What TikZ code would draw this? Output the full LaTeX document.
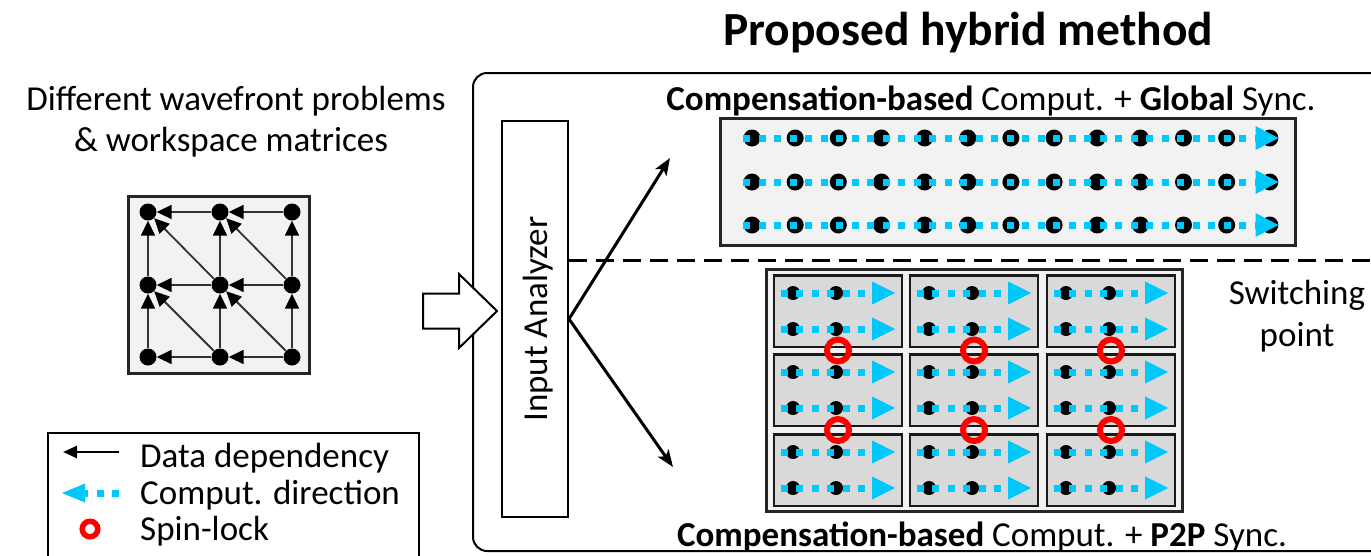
\documentclass[tikz,border=0pt]{standalone}
\usepackage{fontspec}
\setmainfont{Carlito}
\usetikzlibrary{arrows.meta,calc}
\definecolor{flowcyan}{RGB}{0,200,250}
\definecolor{panelgray}{RGB}{242,242,242}
\definecolor{cellgray}{RGB}{217,217,217}
\definecolor{lockred}{RGB}{255,0,0}
\tikzset{
  txt/.style={font=\fontsize{35}{42}\selectfont, inner sep=0pt, anchor=base},
  titletxt/.style={font=\fontsize{47.5}{56}\selectfont\bfseries, inner sep=0pt, anchor=base},
  frame/.style={draw=black!85, line width=3pt, fill=panelgray, inner sep=0pt},
  cellbox/.style={draw=black!90, line width=2.5pt, fill=cellgray, minimum width=128pt, minimum height=71.5pt, inner sep=0pt},
  gdot/.style={circle, fill=black, minimum size=17pt, inner sep=0pt},
  cdot/.style={circle, fill=black, minimum size=14pt, inner sep=0pt},
  dep/.style={draw=black!80, line width=1.8pt, -{Triangle[length=15pt,width=14pt,black]}},
  flow/.style={draw=flowcyan, line width=7pt, dash pattern=on 7pt off 8.5pt, -{Triangle[length=23pt,width=24pt,line width=0pt]}},
  cellflow/.style={flow, -{Triangle[length=23pt,width=23pt,line width=0pt]}},
  lock/.style={circle, draw=lockred, line width=6pt, minimum size=22pt, inner sep=0pt},
  route/.style={draw=black, line width=3pt, -{Stealth[length=17pt,width=13pt,inset=4pt]}},
  switchline/.style={draw=black, line width=3pt, dash pattern=on 18pt off 9pt},
  box/.style={draw=black, line width=2pt, fill=white, inner sep=0pt},
}
\begin{document}
\begin{tikzpicture}[x=1pt,y=-1pt]
\useasboundingbox (0,0) rectangle (1371,555);
\clip (0,0) rectangle (1371,555);

% ---------- headings ----------
\node[titletxt] (title) at (968,45) {Proposed hybrid method};
\node[txt] (intro1) at (236,110) {Different wavefront problems};
\node[txt] (intro2) at (231,151) {\& workspace matrices};

% ---------- wavefront dependency grid ----------
\node[frame, minimum width=181pt, minimum height=177pt] (gridbox) at (219,285) {};
\foreach \r/\y in {1/212,2/285,3/357}
  \foreach \c/\x in {1/148,2/220,3/292}
    \node[gdot] (g\r\c) at (\x,\y) {};
\foreach \a/\b in {12/11,13/12,22/21,23/22,32/31,33/32,
                   21/11,31/21,22/12,32/22,23/13,33/23,
                   22/11,23/12,32/21,33/22}
  \draw[dep] (g\a) -- (g\b);

% ---------- legend ----------
\draw[line width=2pt] (48,570) -- (48,433) -- (419,433) -- (419,570);
\coordinate (legA1) at (119,452);
\coordinate (legA0) at (63,452);
\draw[line width=2.5pt, -{Triangle[length=14pt,width=12pt]}] (legA1) -- (legA0);
\coordinate (legB1) at (119,493);
\coordinate (legB0) at (62,493);
\draw[flow, -{Triangle[length=23pt,width=19pt,line width=0pt]}] (legB1) -- (legB0);
\node[lock, line width=5.5pt, minimum size=15.5pt] (legC) at (90,529) {};
\node[txt, anchor=base west] (legAt) at (140,467) {Data dependency};
\node[txt, anchor=base west] (legBt) at (140,504) {Comput. direction};
\node[txt, anchor=base west] (legCt) at (140,540) {Spin-lock};

% ---------- hybrid method frame ----------
\draw[line width=2pt, rounded corners=14pt] (1400,551) -- (473,551) -- (473,73) -- (1400,73);

% input analyzer and feed arrow
\node[box, minimum width=66pt, minimum height=396pt] (ia) at (535,319) {};
\node[txt, anchor=center, rotate=90] (ialabel) at (538,319) {Input Analyzer};
\coordinate (feed) at (497,311);
\draw[line width=2pt, fill=white]
  ($(feed)+(-74,-17.5)$) -- ($(feed)+(-38,-17.5)$) -- ($(feed)+(-38,-37)$) -- (feed)
  -- ($(feed)+(-38,37)$) -- ($(feed)+(-38,17.5)$) -- ($(feed)+(-74,17.5)$) -- cycle;

% switching point
\coordinate (sw0) at (569,260);
\coordinate (sw1) at (1390,260);
\draw[switchline] (ia.east |- sw0) -- (sw1);
\node[txt] (sw2) at (1297,304) {Switching};
\node[txt] (sw3) at (1297,346) {point};

% routes chosen by the analyzer
\coordinate (upend) at (670,158);
\coordinate (downend) at (673,467);
\draw[route] (ia.east) -- (upend);
\draw[route] (ia.east) -- (downend);

% ---------- global synchronisation panel ----------
\node[txt] (glabel) at (991,110) {\textbf{Compensation-based} Comput. + \textbf{Global} Sync.};
\node[frame, minimum width=575pt, minimum height=127pt] (gpanel) at (1008,182) {};
\foreach \r/\y in {1/138,2/182,3/225}{
  \foreach \k in {0,...,12}
    \node[gdot] (t\r-\k) at ({752+43.15*\k},\y) {};
  \draw[flow] (t\r-0.west) -- (t\r-12.east);
}

% ---------- point-to-point synchronisation panel ----------
\node[frame, minimum width=416pt, minimum height=242pt] (ppanel) at (974.5,390.5) {};
\foreach \i/\cy in {1/311,2/390,3/470}
  \foreach \j/\lx in {1/773,2/909,3/1046}{
    \node[cellbox] (cell\i\j) at ({\lx+65},\cy) {};
    \foreach \s/\dy in {1/-18,2/18}{
      \foreach \k/\dx in {1/20,2/63,3/106}
        \node[cdot] (d\i\j\s\k) at ({\lx+\dx},{\cy+\dy}) {};
      \draw[cellflow] ([xshift=-5pt]d\i\j\s1.west) -- ([xshift=9pt]d\i\j\s3.east);
    }
  }
\foreach \j/\lx in {1/773,2/909,3/1046}{
  \node[lock] (lockA\j) at ({\lx+65},350.5) {};
  \node[lock] (lockB\j) at ({\lx+65},430) {};
}
\node[txt] (plabel) at (982,546) {\textbf{Compensation-based} Comput. + \textbf{P2P} Sync.};
\end{tikzpicture}
\end{document}
